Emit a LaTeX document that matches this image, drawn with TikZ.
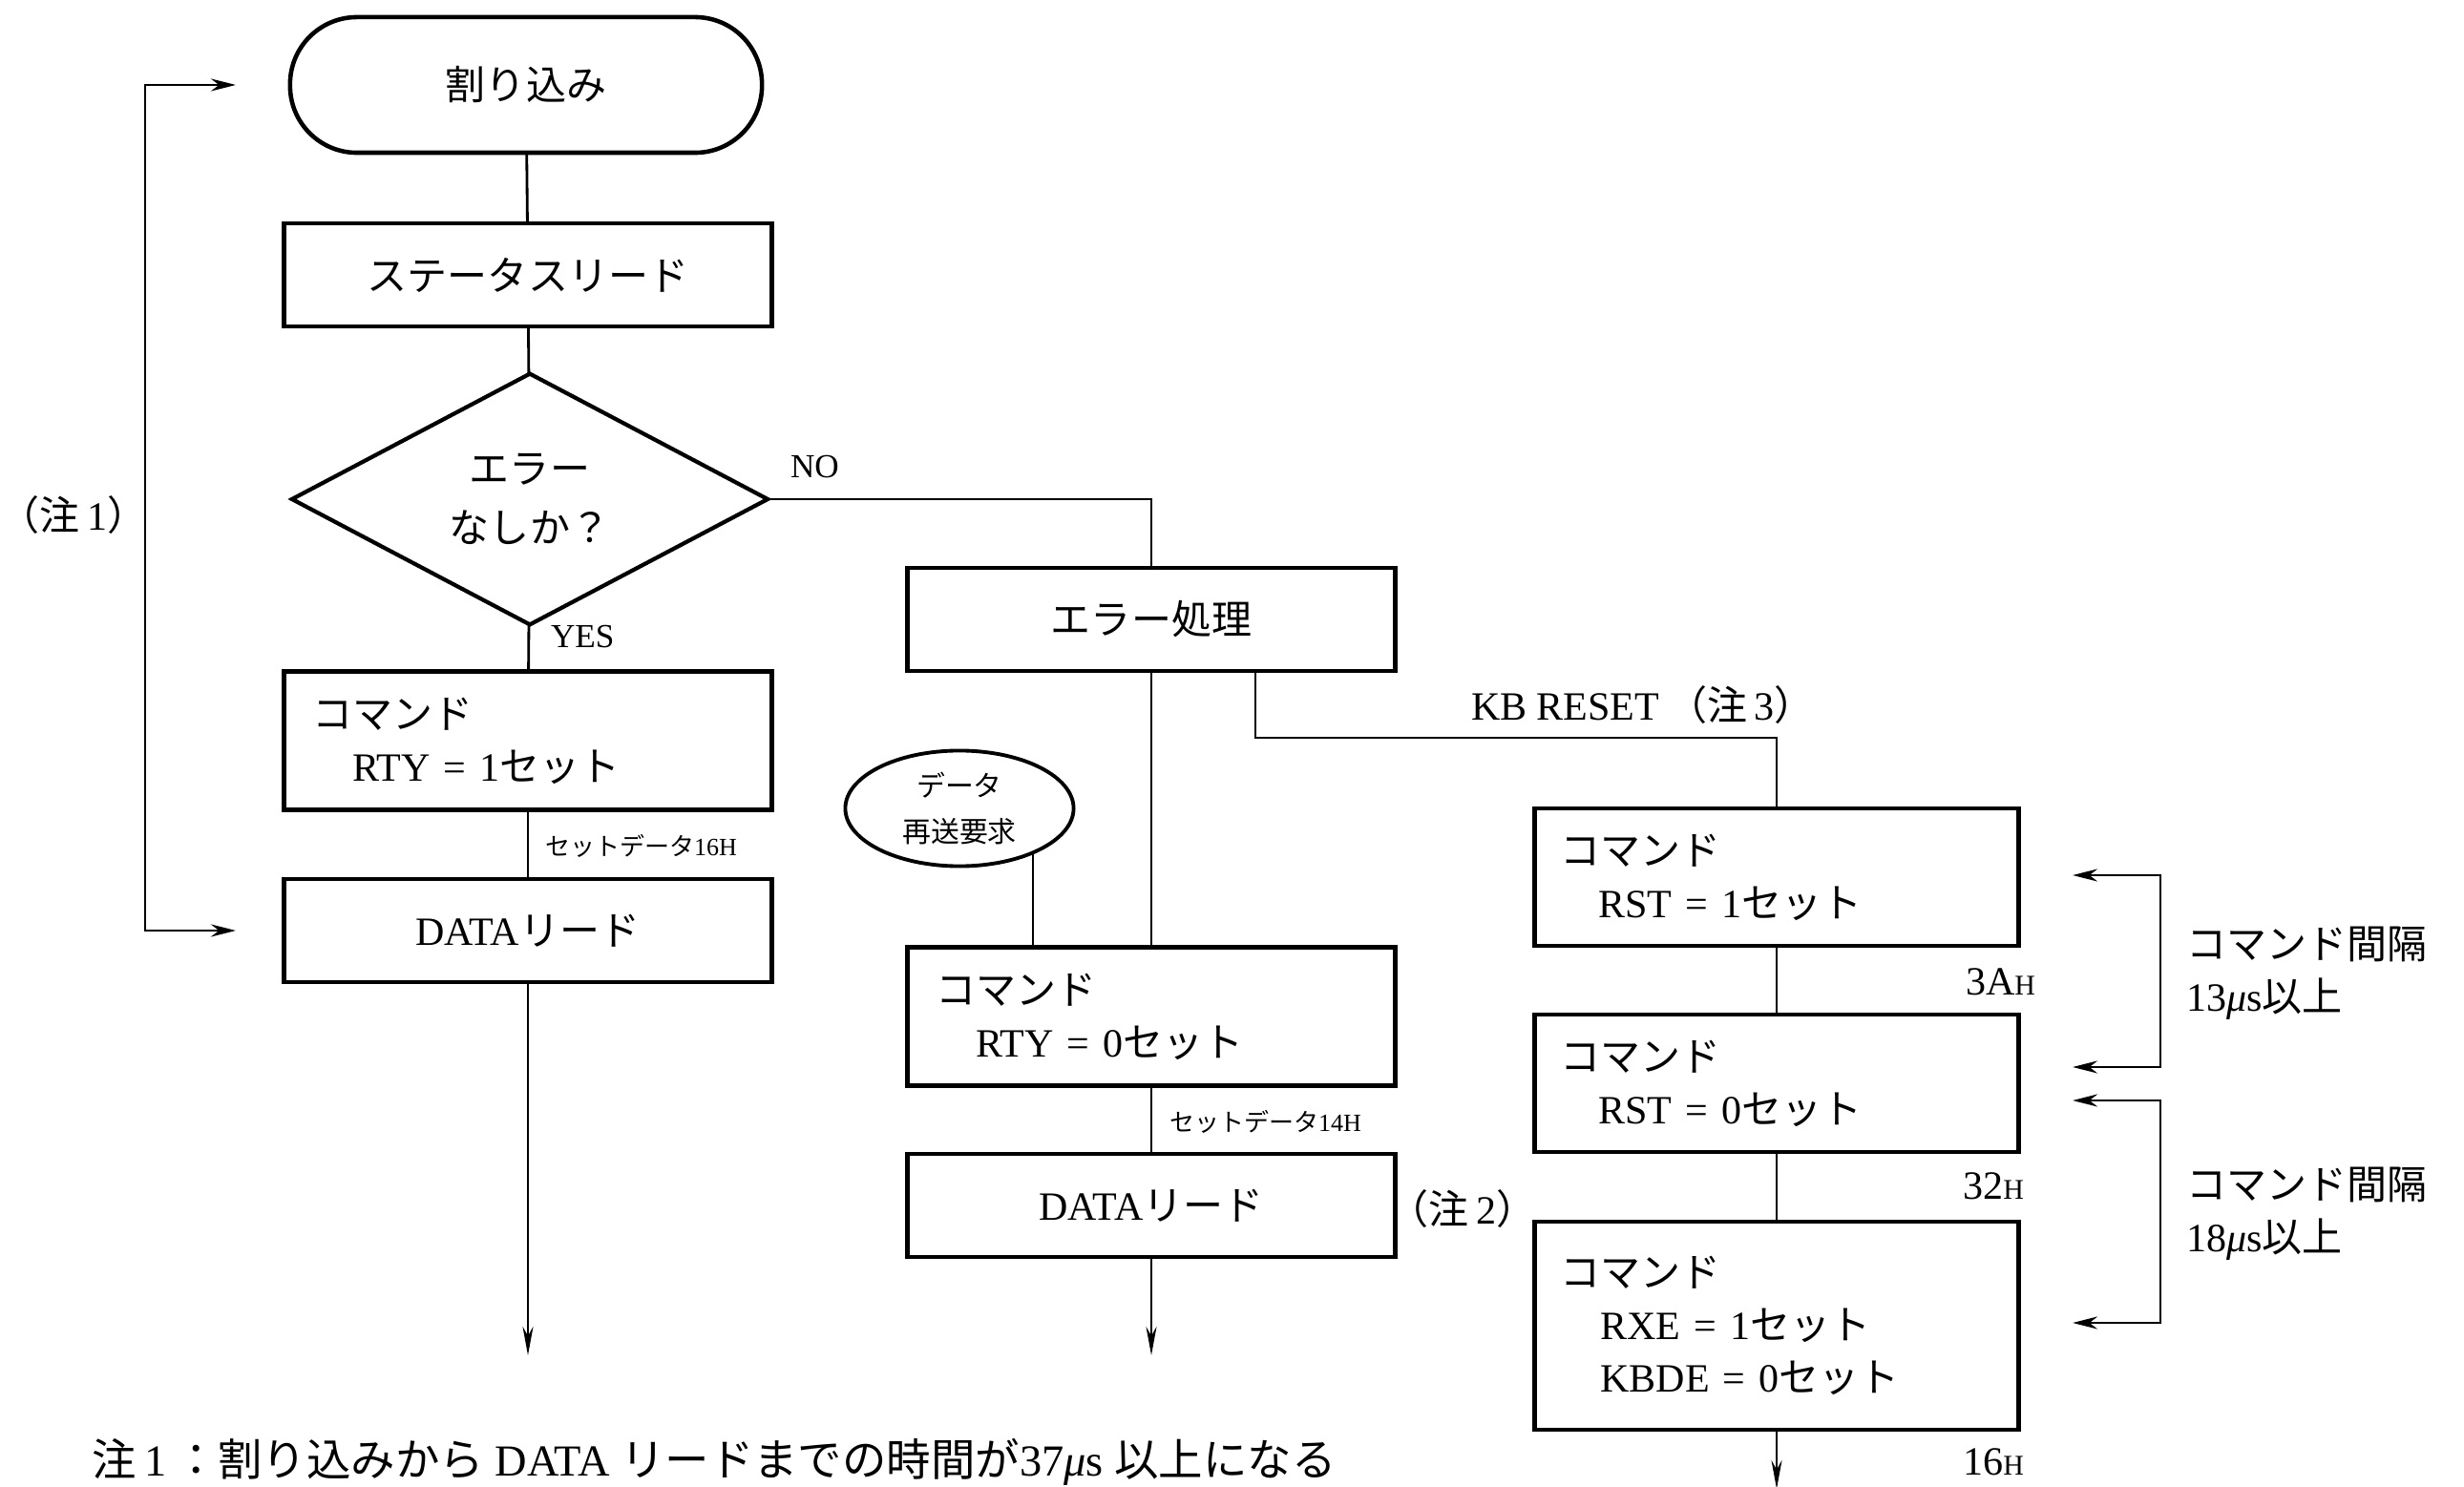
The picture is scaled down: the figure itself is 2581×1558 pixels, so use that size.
\documentclass[tikz,border=0pt]{standalone}
\usepackage{fontspec}
\setmainfont{Liberation Serif}
\newfontfamily\cjk{Noto Sans CJK JP}
\usetikzlibrary{shapes.geometric,arrows.meta,calc}
\newcommand\J[1]{{\cjk #1}}
\newcommand\mainsz{\fontsize{11.95pt}{15.6pt}\selectfont}
\newcommand\hsub[1]{{\fontsize{8.5pt}{9pt}\selectfont #1}}
\begin{document}
\begin{tikzpicture}[x=0.01cm,y=-0.01cm,
  every node/.style={inner sep=0pt,outer sep=0pt},
  box/.style={draw,line width=1.3pt,minimum width=5.11cm,minimum height=1.08cm,font=\mainsz},
  cmd/.style={box,minimum height=1.45cm,inner xsep=0.30cm,text width=4.51cm,align=left},
  cmdr/.style={box,minimum width=5.07cm,minimum height=1.44cm,inner xsep=0.27cm,text width=4.53cm,align=left},
  term/.style={draw,line width=1.3pt,rectangle,rounded corners=0.70cm,minimum width=4.94cm,minimum height=1.42cm,font=\mainsz},
  dec/.style={draw,line width=1.2pt,diamond,minimum width=4.98cm,minimum height=2.16cm,align=center,font=\fontsize{11.95pt}{17.4pt}\selectfont},
  ell/.style={draw,line width=1.1pt,ellipse,minimum width=2.39cm,minimum height=1.21cm,align=center,font=\fontsize{8.5pt}{13.7pt}\selectfont},
  lbl/.style={font=\mainsz},
  foot/.style={font=\fontsize{13.2pt}{16pt}\selectfont},
  yn/.style={font=\fontsize{10pt}{12pt}\selectfont},
  tiny/.style={font=\fontsize{7.4pt}{9pt}\selectfont},
  conn/.style={line width=0.8pt},
  arr/.style={conn,-{Stealth[length=0.30cm,width=0.11cm]}},
  darr/.style={conn,{Stealth[length=0.26cm,width=0.13cm]}-{Stealth[length=0.26cm,width=0.13cm]}}]
\fill[white] (0,0) rectangle (2581,1558);
\useasboundingbox (0,0) rectangle (2581,1558);

% left column
\node[term] (int) at (551,89) {\J{割り込み}};
\node[box] (stat) at (553,288) {\J{ステータスリード}};
\node[dec] (dia) at (555,523) {\J{エラー}\\\J{なしか？}};
\node[cmd] (rty1) at (553,776) {\J{コマンド}\\\hspace*{0.42cm}RTY = 1\J{セット}};
\node[box] (dat1) at (553,975) {DATA\J{リード}};

% middle column
\node[box] (err) at (1206,649) {\J{エラー処理}};
\node[ell] (req) at (1005,847) {\J{データ}\\\J{再送要求}};
\node[cmd] (rty0) at (1206,1065) {\J{コマンド}\\\hspace*{0.42cm}RTY = 0\J{セット}};
\node[box] (dat2) at (1206,1263) {DATA\J{リード}};

% right column
\node[cmdr] (rst1) at (1861,919) {\J{コマンド}\\\hspace*{0.40cm}RST = 1\J{セット}};
\node[cmdr] (rst0) at (1861,1135) {\J{コマンド}\\\hspace*{0.40cm}RST = 0\J{セット}};
\node[cmdr,minimum height=2.18cm] (rxe) at (1861,1389) {\J{コマンド}\\\hspace*{0.42cm}RXE = 1\J{セット}\\\hspace*{0.42cm}KBDE = 0\J{セット}};

% free ends
\coordinate (end1) at (553,1420);
\coordinate (end2) at (1206,1420);
\coordinate (end3) at (1861,1560);
\coordinate (loopT) at (247,89);
\coordinate (loopB) at (247,975);
\coordinate (b1t) at (2171,917);
\coordinate (b1b) at (2171,1118);
\coordinate (b2t) at (2171,1153);
\coordinate (b2b) at (2171,1386);

% connectors
\draw[conn] (int) -- (stat);
\draw[conn] (stat) -- (dia);
\draw[conn] (dia) -- (rty1);
\draw[conn] (rty1) -- (dat1);
\draw[arr] (dat1) -- (end1);
\draw[conn] (dia.east) -| (err.north);
\draw[conn] (err) -- (rty0);
\draw[conn] (req.-31) -- (req.-31 |- rty0.north);
\draw[conn] (rty0) -- (dat2);
\draw[arr] (dat2) -- (end2);
\draw[conn] ([xshift=1.09cm]err.south) -- ++(0,70) -| (rst1.north);
\draw[conn] (rst1) -- (rst0);
\draw[conn] (rst0) -- (rxe);
\draw[arr] (rxe) -- (end3);
\draw[darr] (loopT) -- ++(-95,0) |- (loopB);
\draw[darr] (b1t) -- ++(92,0) |- (b1b);
\draw[darr] (b2t) -- ++(92,0) |- (b2b);

% labels
\node[yn,anchor=west] (no) at (828,489) {NO};
\node[yn,anchor=west] (yes) at (577,667) {YES};
\node[tiny,anchor=west] (sd16) at (571,886) {\J{セットデータ}16H};
\node[tiny,anchor=west] (sd14) at (1225,1175) {\J{セットデータ}14H};
\node[lbl] (n1) at (77,540) {\J{（注}\,1\J{）}};
\node[lbl] (n2) at (1532,1267) {\J{（注}\,2\J{）}};
\node[lbl,anchor=west] (kb) at (1541,739) {KB RESET\hspace{0.08cm}\J{（注}\,3\J{）}};
\node[lbl,anchor=east] (h3a) at (2132,1029) {3A\hsub{H}};
\node[lbl,anchor=east] (h32) at (2120,1243) {32\hsub{H}};
\node[lbl,anchor=east] (h16) at (2120,1532) {16\hsub{H}};
\node[lbl,anchor=west,align=left] (iv1) at (2290,1020) {\J{コマンド間隔}\\13\textit{μ}s\J{以上}};
\node[lbl,anchor=west,align=left] (iv2) at (2290,1272) {\J{コマンド間隔}\\18\textit{μ}s\J{以上}};
\node[foot,anchor=base west] (fn) at (97,1546) {\J{注}\,1\,\J{：割り込みから}\ DATA\ \J{リードまでの時間が}37\textit{μ}s\ \J{以上になる}};
\end{tikzpicture}
\end{document}
